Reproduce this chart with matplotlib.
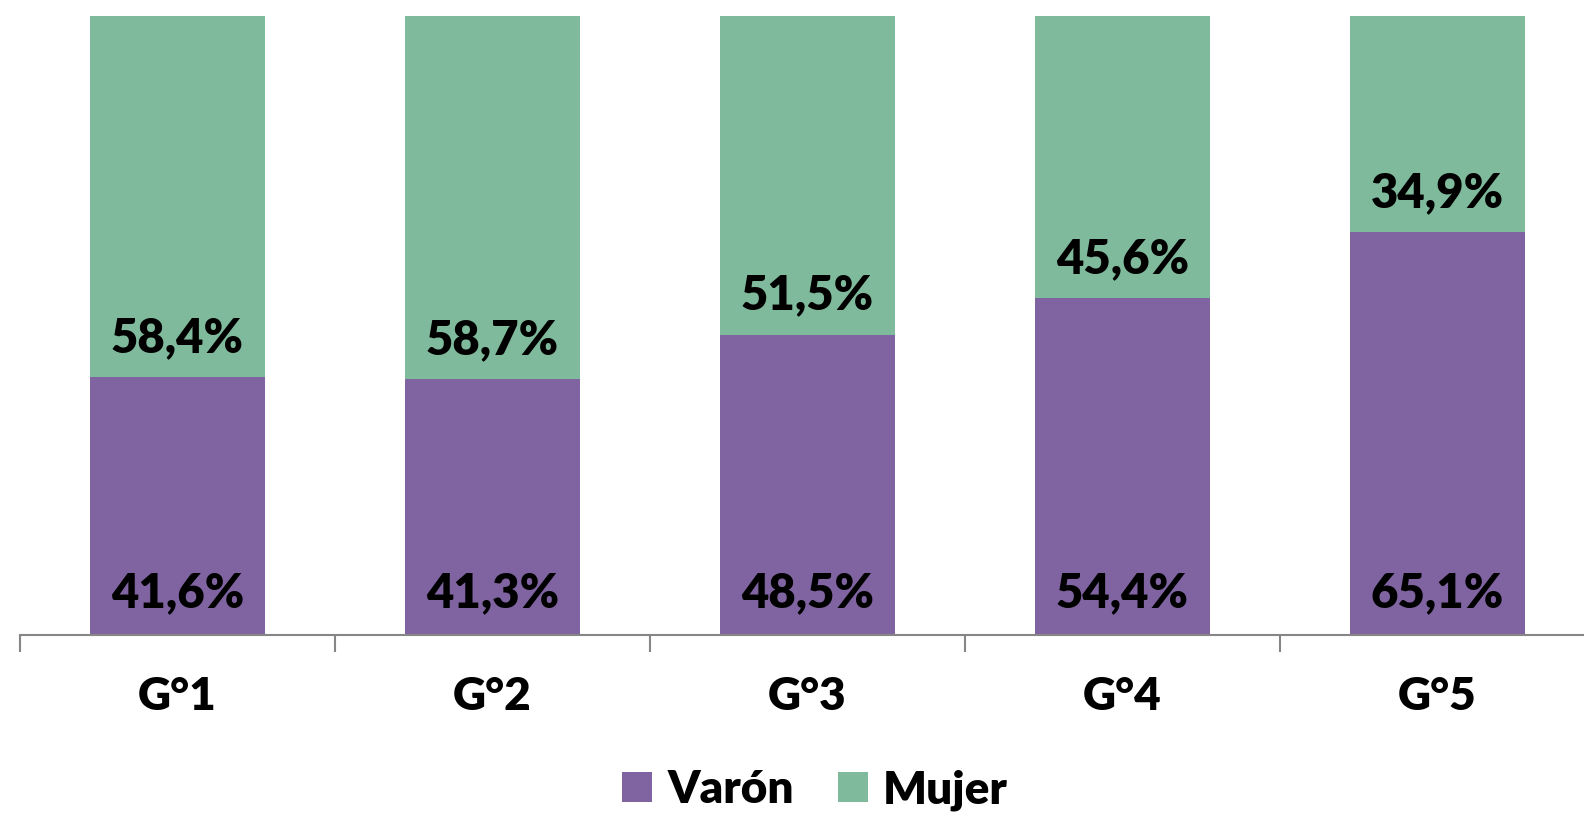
import matplotlib
matplotlib.use('Agg')
import matplotlib.pyplot as plt
import numpy as np

grados = ['G°1', 'G°2', 'G°3', 'G°4', 'G°5']
varon = [41.6, 41.3, 48.5, 54.4, 65.1]
mujer = [58.4, 58.7, 51.5, 45.6, 34.9]

c_varon = '#8064A2'
c_mujer = '#7FBA9C'

plt.rcParams['font.family'] = ['Lato', 'DejaVu Sans']
plt.rcParams['font.weight'] = 'heavy'

fig = plt.figure(figsize=(15.84, 8.15), dpi=100)
ax = fig.add_axes([20 / 1584, 180.3 / 815, 1575 / 1584, 618.7 / 815])

x = np.arange(len(grados))
b1 = ax.bar(x, varon, width=0.556, color=c_varon, label='Varón')
b2 = ax.bar(x, mujer, width=0.556, bottom=varon, color=c_mujer, label='Mujer')

for i in range(len(grados)):
    ax.annotate(f'{varon[i]:.1f}%'.replace('.', ','), (x[i], 0), xytext=(0, 20),
                textcoords='offset points', ha='center', va='baseline',
                fontsize=34, fontweight='heavy')
    ax.annotate(f'{mujer[i]:.1f}%'.replace('.', ','), (x[i], varon[i]), xytext=(0, 18),
                textcoords='offset points', ha='center', va='baseline',
                fontsize=34, fontweight='heavy')

ax.set_xlim(-0.5, 4.5)
ax.set_ylim(0, 100)
for s in ['top', 'right', 'left']:
    ax.spines[s].set_visible(False)
ax.spines['bottom'].set_color('#868686')
ax.spines['bottom'].set_linewidth(1.5)
ax.set_yticks([])
ax.set_xticks(np.arange(-0.5, 5, 1))
ax.set_xticklabels([])
ax.tick_params(axis='x', which='major', length=12.5, width=1.5, color='#868686')
ax.set_xticks(x, minor=True)
ax.set_xticklabels(grados, minor=True, fontsize=33, fontweight='heavy')
ax.tick_params(axis='x', which='minor', length=0, pad=30)

fig.legend(loc='center', bbox_to_anchor=(815 / 1584, 25 / 815), ncol=2, frameon=False,
           prop={'size': 33, 'weight': 'heavy'}, handlelength=0.65, handleheight=0.65,
           handletextpad=0.34, columnspacing=0.96, borderpad=0)

fig.savefig('out.png', dpi=100)
